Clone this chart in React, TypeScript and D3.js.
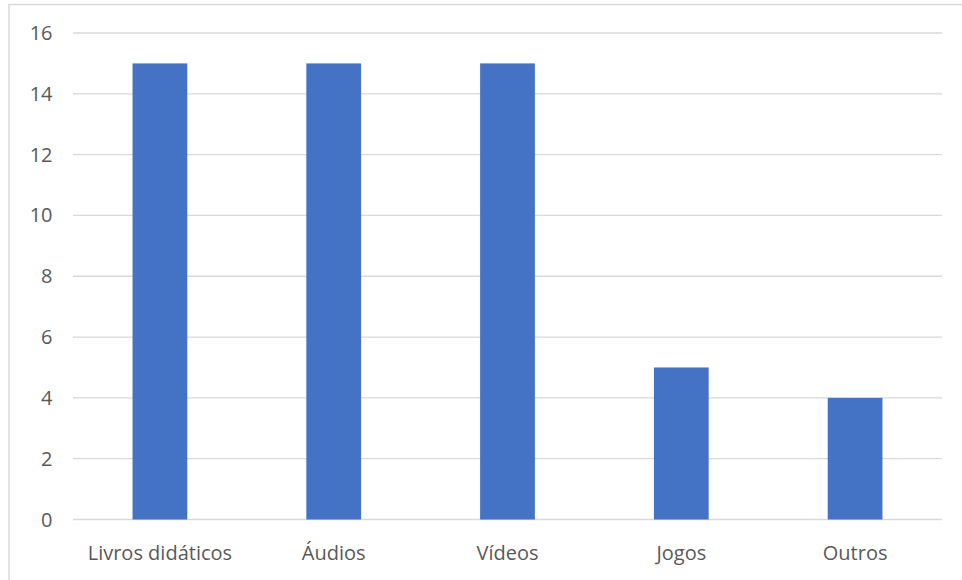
import React from "react";
import * as d3 from "d3";

const categories = ["Livros didáticos", "Áudios", "Vídeos", "Jogos", "Outros"];
const values = [15, 15, 15, 5, 4];
const yTicks = [0, 2, 4, 6, 8, 10, 12, 14, 16];

const W = 962;
const H = 580;
const left = 73;
const right = 942;
const top = 33;
const bottom = 519.5;

export default function App() {
  const x = d3.scaleBand().domain(categories).range([left, right]).paddingInner(0.685).paddingOuter(0.3425);
  const y = d3.scaleLinear().domain([0, 16]).range([bottom, top]);
  const font = "'Open Sans', sans-serif";
  return (
    <svg width={W} height={H} style={{ position: "absolute", left: 0, top: 0, background: "#fff" }}>
      <rect x={9} y={4.5} width={W + 20} height={H + 20} fill="#fff" stroke="#d9d9d9" strokeWidth={1.5} />
      {yTicks.map((t) => (
        <g key={t}>
          <line x1={left} x2={right} y1={y(t)} y2={y(t)} stroke="#d9d9d9" strokeWidth={1.3} />
          <text x={52.5} y={y(t) + 7} textAnchor="end" fontFamily={font} fontSize={20} fill="#595959">
            {t}
          </text>
        </g>
      ))}
      {categories.map((c, i) => (
        <g key={c}>
          <rect x={x(c)} y={y(values[i])} width={x.bandwidth()} height={y(0) - y(values[i])} fill="#4472c4" />
          <text x={(x(c) as number) + x.bandwidth() / 2} y={560} textAnchor="middle" fontFamily={font} fontSize={20} fill="#595959">
            {c}
          </text>
        </g>
      ))}
    </svg>
  );
}
